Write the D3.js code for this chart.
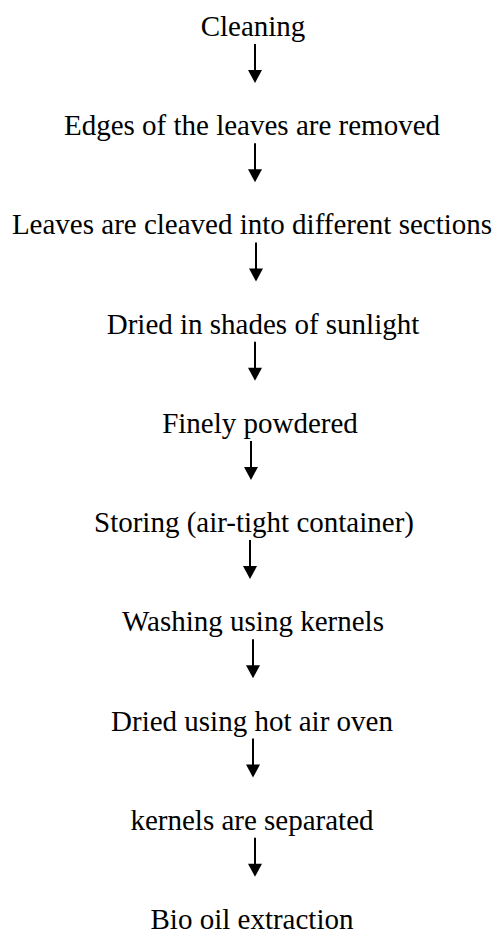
<!DOCTYPE html>
<html>
<head>
<meta charset="utf-8">
<script src="https://cdn.jsdelivr.net/npm/d3@7"></script>
<style>
  html, body { margin: 0; padding: 0; background: #fff; }
  svg { display: block; }
</style>
</head>
<body>
<script>
// Flowchart steps (top to bottom)
const steps = [
  "Cleaning",
  "Edges of the leaves are removed",
  "Leaves are cleaved into different sections",
  "Dried in shades of sunlight",
  "Finely powdered",
  "Storing (air-tight container)",
  "Washing using kernels",
  "Dried using hot air oven",
  "kernels are separated",
  "Bio oil extraction"
];
// Horizontal centre of each label
const labelCenters = [253, 252, 252, 263, 260, 254, 253, 252, 252, 252];
// Horizontal position of each arrow (between step i and i+1)
const arrowCenters = [255, 255, 256, 255, 251, 250, 253, 253, 255];

const W = 496, H = 936;
const svg = d3.select("body").append("svg")
  .attr("width", W).attr("height", H);

const y = d3.scalePoint().domain(d3.range(steps.length)).range([36, 929]);
const x = d3.scaleLinear().domain([0, W]).range([0, W]);

svg.selectAll("text.step")
  .data(steps)
  .join("text")
  .attr("class", "step")
  .attr("x", (d, i) => x(labelCenters[i]))
  .attr("y", (d, i) => y(i))
  .attr("text-anchor", "middle")
  .attr("font-family", "'Liberation Serif', 'Times New Roman', serif")
  .attr("font-size", 29)
  .attr("fill", "#000")
  .text(d => d);

// arrows: start just under label i, tip ~39px lower
const arrows = d3.range(steps.length - 1);
const startOff = 8, tipOff = 47, headH = 13, headW = 14;

const g = svg.append("g");
g.selectAll("line.shaft")
  .data(arrows)
  .join("line")
  .attr("class", "shaft")
  .attr("x1", i => x(arrowCenters[i]))
  .attr("x2", i => x(arrowCenters[i]))
  .attr("y1", i => y(i) + startOff)
  .attr("y2", i => y(i) + tipOff - headH + 1)
  .attr("stroke", "#000")
  .attr("stroke-width", 2);

g.selectAll("path.head")
  .data(arrows)
  .join("path")
  .attr("class", "head")
  .attr("d", i => {
    const cx = x(arrowCenters[i]), ty = y(i) + tipOff;
    return `M${cx - headW / 2},${ty - headH} L${cx + headW / 2},${ty - headH} L${cx},${ty} Z`;
  })
  .attr("fill", "#000");
</script>
</body>
</html>
